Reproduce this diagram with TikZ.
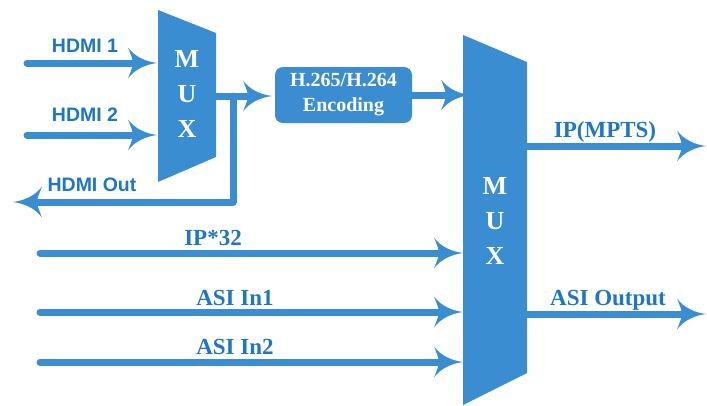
\documentclass[tikz,border=0pt]{standalone}
\usepackage{fontspec}
\setmainfont{Liberation Serif}
\newfontfamily\hsans{Liberation Sans}
\usetikzlibrary{arrows.meta}
\definecolor{mblue}{HTML}{3A8DD0}
\definecolor{tblue}{HTML}{1E76C6}
\pgfdeclarearrow{
  name=Swoop,
  setup code={%
    \pgfarrowssettipend{0pt}%
    \pgfarrowssetlineend{-23pt}%
    \pgfarrowssetbackend{-29pt}%
    \pgfarrowshullpoint{0pt}{0pt}%
    \pgfarrowshullpoint{-29pt}{16pt}%
    \pgfarrowshullpoint{-29pt}{-16pt}%
  },
  drawing code={%
    \pgfpathmoveto{\pgfqpoint{0pt}{0pt}}%
    \pgfpathcurveto{\pgfqpoint{-11pt}{1.5pt}}{\pgfqpoint{-22pt}{6pt}}{\pgfqpoint{-29pt}{15.5pt}}%
    \pgfpathcurveto{\pgfqpoint{-26pt}{8pt}}{\pgfqpoint{-24pt}{3pt}}{\pgfqpoint{-24pt}{0pt}}%
    \pgfpathcurveto{\pgfqpoint{-24pt}{-3pt}}{\pgfqpoint{-26pt}{-8pt}}{\pgfqpoint{-29pt}{-15.5pt}}%
    \pgfpathcurveto{\pgfqpoint{-22pt}{-6pt}}{\pgfqpoint{-11pt}{-1.5pt}}{\pgfqpoint{0pt}{0pt}}%
    \pgfpathclose
    \pgfusepathqfill
  }
}
\begin{document}
\begin{tikzpicture}[x=1pt,y=-1pt,
  wire/.style={draw=mblue, line width=7pt, line cap=round, line join=round},
  arr/.style={wire, -Swoop},
  muxshape/.style={fill=mblue, draw=none},
  muxtext/.style={text=white, font=\fontsize{26}{35}\selectfont\bfseries, align=center, inner sep=0pt},
  slabel/.style={text=tblue, font=\hsans\fontsize{19.5}{22}\selectfont\bfseries, anchor=base, inner sep=0pt},
  rlabel/.style={text=tblue, font=\fontsize{23}{26}\selectfont\bfseries, anchor=base, inner sep=0pt},
  encbox/.style={fill=mblue, rounded corners=8pt, minimum width=137pt, minimum height=56pt, text=white,
    font=\fontsize{20}{25}\selectfont\bfseries, align=center, inner sep=0pt}]
\useasboundingbox (0,0) rectangle (707,405);
% multiplexers
\fill[muxshape] (158,10) -- (216,33) -- (216,157) -- (158,182) -- cycle;
\fill[muxshape] (463,35) -- (527,62) -- (527,373) -- (463,405) -- cycle;
\node[muxtext] (mux1) at (187,94) {M\\U\\X};
\node[muxtext] (mux2) at (495,221) {M\\U\\X};
% encoder
\node[encbox] (enc) at (343.5,95) {H.265/H.264\\Encoding};
% port coordinates
\coordinate (h1s) at (27,63);   \coordinate (h1e) at (157,63);
\coordinate (h2s) at (27,135);  \coordinate (h2e) at (157,135);
\coordinate (m1o) at (216,96);
\coordinate (j) at (233,96);
\coordinate (jb) at (233,202);
\coordinate (ho) at (13,202);
\coordinate (enci) at (272,96);
\coordinate (m2i) at (470,95);
\coordinate (ips) at (40,253);  \coordinate (ipe) at (463,253);
\coordinate (a1s) at (40,312);  \coordinate (a1e) at (463,312);
\coordinate (a2s) at (40,362);  \coordinate (a2e) at (463,362);
\coordinate (o1s) at (527,146); \coordinate (o1e) at (706,146);
\coordinate (o2s) at (527,314); \coordinate (o2e) at (706,314);
% connectors
\draw[arr] (h1s) -- (h1e);
\draw[arr] (h2s) -- (h2e);
\draw[arr] (m1o) -- (enci);
\draw[arr] (j) -- (jb) -- (ho);
\draw[arr] (enc.east) -- (m2i);
\draw[arr] (ips) -- (ipe);
\draw[arr] (a1s) -- (a1e);
\draw[arr] (a2s) -- (a2e);
\draw[arr] (o1s) -- (o1e);
\draw[arr] (o2s) -- (o2e);
% labels
\node[slabel] (lh1) at (85,52) {HDMI 1};
\node[slabel] (lh2) at (85,121) {HDMI 2};
\node[slabel] (lho) at (92,191) {HDMI Out};
\node[rlabel] (lip) at (213,245) {IP*32};
\node[rlabel] (la1) at (235,305) {ASI In1};
\node[rlabel] (la2) at (235,354) {ASI In2};
\node[rlabel] (lo1) at (605,137) {IP(MPTS)};
\node[rlabel] (lo2) at (608,305) {ASI Output};
\end{tikzpicture}
\end{document}
